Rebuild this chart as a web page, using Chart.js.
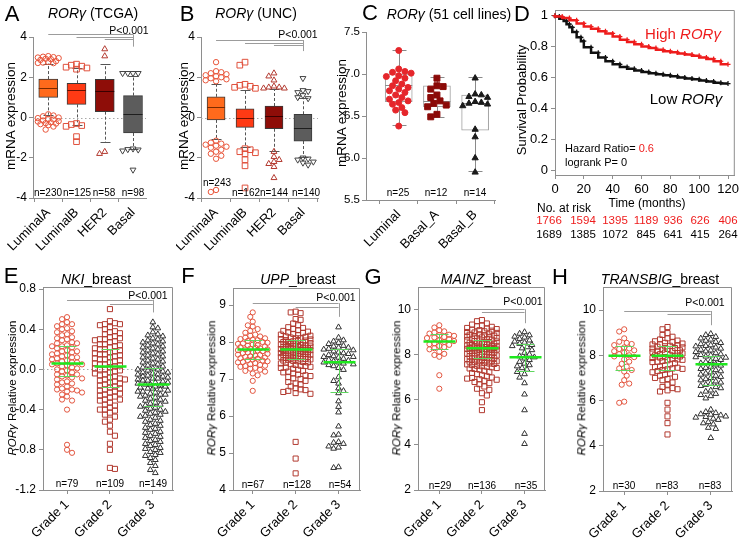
<!DOCTYPE html>
<html><head><meta charset="utf-8">
<script src="https://cdn.jsdelivr.net/npm/chart.js@4.4.0/dist/chart.umd.min.js"></script>
<style>
html,body{margin:0;padding:0;background:#fff;width:740px;height:540px;overflow:hidden;position:relative;font-family:"Liberation Sans",Arial,Helvetica,sans-serif}
canvas{position:absolute}
.t{position:absolute;white-space:nowrap;line-height:1;color:#000}
</style></head><body>
<script>
// ---------------- DATA ----------------
const catsAB = ['LuminalA','LuminalB','HER2','Basal'];
const catsC = ['Luminal','Basal_A','Basal_B'];
const catsG = ['Grade 1','Grade 2','Grade 3'];

const yTicksAB = [-4,-2,0,2,4];
const yTicksC = [5.5,6.0,6.5,7.0,7.5];
const yTicksD = [0,0.2,0.4,0.6,0.8,1];
const xTicksD = [0,20,40,60,80,100,120];
const yTicksE = [-1.2,-0.8,-0.4,0,0.4,0.8];
const yTicksF = [4,5,6,7,8,9];
const yTicksGH = [2,4,6,8,10];

// A: TCGA box plots
const aQ1 = [1.00, 0.65, 0.29, -0.77];
const aMed = [1.45, 1.35, 1.31, 0.15];
const aQ3 = [1.91, 1.70, 1.90, 1.09];
const aLo = [0.14, -0.35, -1.23, -1.58];
const aHi = [2.68, 2.45, 2.65, 2.05];
const aN = [230,125,58,98];
const aOut = [
 [3.05,3.02,3.0,2.98,2.95,2.92,2.9,2.86,2.8,2.76,2.73,2.71,2.7,0.16,0.1,0.06,0.0,-0.03,-0.08,-0.1,-0.15,-0.18,-0.2,-0.24,-0.28,-0.3,-0.33,-0.38,-0.45,-0.6],
 [2.65,2.6,2.55,2.5,2.46,2.4,-0.3,-0.35,-0.4,-0.44,-0.95,-1.2],
 [3.4,3.05,-1.7,-1.8],
 [2.2,2.2,2.2,2.2,-1.55,-1.58,-1.6,-1.65,-2.6]
];
// B: UNC box plots
const bQ1 = [-0.12, -0.49, -0.56, -1.17];
const bMed = [0.53, -0.04, 0.05, -0.52];
const bQ3 = [1.03, 0.43, 0.57, 0.16];
const bLo = [-1.08, -1.45, -1.65, -1.95];
const bHi = [1.67, 1.37, 1.42, 0.98];
const bN = [243,162,144,140];
const bOut = [
 [2.75,2.3,2.25,2.2,2.15,2.1,2.05,2.0,1.95,1.9,1.85,1.8,-1.15,-1.25,-1.3,-1.35,-1.4,-1.45,-1.5,-1.6,-1.7,-1.8,-1.9,-2.05,-3.6,-3.7],
 [2.75,2.6,1.65,1.6,1.55,1.5,1.45,-1.55,-1.6,-1.7,-1.75,-1.8,-2.1,-2.4,-3.5],
 [2.2,2.05,1.85,1.55,1.5,1.5,1.45,1.45,-1.7,-1.95,-2.1,-2.2,-2.3,-2.45,-3.0],
 [1.95,1.35,1.3,1.25,1.1,1.0,0.95,-2.0,-2.05,-2.1,-2.2,-2.25,-2.35]
];
// C: cell lines
const cQ1 = [6.67, 6.61, 6.33];
const cMed = [6.87, 6.68, 6.65];
const cQ3 = [7.00, 6.86, 6.75];
const cLo = [6.39, 6.49, 5.84];
const cHi = [7.29, 6.96, 6.96];
const cN = [25,12,14];
const cPts = [
 [7.28,7.06,7.03,7.02,7.01,6.98,6.97,6.95,6.92,6.88,6.86,6.84,6.82,6.80,6.78,6.75,6.72,6.70,6.68,6.66,6.64,6.60,6.57,6.54,6.38],
 [6.95,6.86,6.85,6.82,6.75,6.72,6.68,6.65,6.63,6.61,6.52,6.49],
 [6.95,6.76,6.75,6.73,6.72,6.67,6.66,6.65,6.64,6.62,6.34,6.25,6.00,5.83]
];
// D: survival
const dTimeHigh = [0,5,10,15,20,25,30,35,40,45,50,55,60,65,70,75,80,85,90,95,100,105,110,115,120];
const dSurvHigh = [1.0,0.995,0.985,0.97,0.95,0.93,0.915,0.9,0.885,0.865,0.845,0.83,0.815,0.8,0.79,0.78,0.77,0.763,0.755,0.748,0.74,0.73,0.72,0.705,0.685];
const dTimeLow = [0,3,6,8,10,12,15,18,20,25,30,35,40,45,50,55,60,65,70,75,80,85,90,95,100,105,110,115,120];
const dSurvLow = [1.0,0.995,0.98,0.965,0.945,0.925,0.895,0.86,0.835,0.795,0.76,0.73,0.705,0.685,0.668,0.656,0.645,0.636,0.628,0.62,0.614,0.607,0.6,0.594,0.588,0.58,0.574,0.566,0.56];
const riskTimes = [0,20,40,60,80,100,120];
const riskHigh = [1766,1594,1395,1189,936,626,406];
const riskLow = [1689,1385,1072,845,641,415,264];

// E: NKI
const eVals = [
 [0.52,0.50,0.47,0.45,0.45,0.43,0.41,0.40,0.38,0.37,0.35,0.34,0.32,0.31,0.30,0.29,0.27,0.26,0.26,0.24,0.23,0.23,0.22,0.21,0.19,0.18,0.18,0.17,0.16,0.15,0.14,0.13,0.12,0.12,0.11,0.10,0.09,0.08,0.07,0.07,0.06,0.05,0.05,0.04,0.03,0.02,0.01,0.00,-0.01,-0.02,-0.03,-0.05,-0.05,-0.06,-0.07,-0.08,-0.09,-0.10,-0.12,-0.13,-0.14,-0.15,-0.17,-0.19,-0.20,-0.20,-0.21,-0.22,-0.23,-0.25,-0.27,-0.30,-0.31,-0.40,-0.75,-0.80,-0.83],
 [0.60,0.48,0.46,0.45,0.45,0.44,0.42,0.40,0.38,0.37,0.36,0.35,0.33,0.32,0.31,0.30,0.30,0.29,0.28,0.27,0.25,0.25,0.24,0.23,0.22,0.21,0.20,0.20,0.19,0.18,0.17,0.16,0.15,0.15,0.14,0.13,0.12,0.11,0.10,0.10,0.09,0.08,0.07,0.06,0.05,0.05,0.04,0.03,0.02,0.01,0.00,0.00,-0.01,-0.02,-0.03,-0.04,-0.05,-0.06,-0.07,-0.08,-0.09,-0.10,-0.10,-0.11,-0.12,-0.13,-0.14,-0.15,-0.16,-0.17,-0.18,-0.19,-0.20,-0.21,-0.22,-0.23,-0.24,-0.25,-0.26,-0.27,-0.28,-0.30,-0.30,-0.31,-0.33,-0.35,-0.36,-0.38,-0.40,-0.40,-0.41,-0.43,-0.45,-0.47,-0.50,-0.52,-0.56,-0.62,-0.66,-0.74,-0.80,-0.98,-0.99],
 [0.47,0.42,0.41,0.37,0.35,0.34,0.33,0.31,0.30,0.29,0.28,0.27,0.26,0.25,0.24,0.23,0.22,0.21,0.20,0.19,0.18,0.17,0.16,0.15,0.14,0.13,0.12,0.11,0.10,0.09,0.08,0.07,0.06,0.05,0.04,0.03,0.02,0.01,0.00,0.00,-0.01,-0.02,-0.03,-0.03,-0.04,-0.05,-0.05,-0.06,-0.07,-0.07,-0.08,-0.09,-0.09,-0.10,-0.11,-0.11,-0.12,-0.13,-0.13,-0.14,-0.15,-0.15,-0.16,-0.17,-0.17,-0.18,-0.19,-0.19,-0.20,-0.21,-0.22,-0.22,-0.23,-0.24,-0.25,-0.25,-0.26,-0.27,-0.28,-0.29,-0.30,-0.31,-0.32,-0.33,-0.34,-0.35,-0.36,-0.37,-0.38,-0.39,-0.40,-0.41,-0.42,-0.43,-0.44,-0.45,-0.46,-0.47,-0.48,-0.50,-0.51,-0.52,-0.54,-0.55,-0.56,-0.58,-0.59,-0.60,-0.62,-0.63,-0.64,-0.66,-0.67,-0.68,-0.70,-0.71,-0.72,-0.74,-0.75,-0.76,-0.78,-0.79,-0.80,-0.82,-0.83,-0.85,-0.86,-0.88,-0.90,-0.93,-0.96,-1.00,-1.03]
];
const eMed = [0.06, 0.03, -0.15];
const eHi = [0.235, 0.20, 0.01];
const eLo = [-0.07, -0.18, -0.36];
const eN = [79,109,149];

// F: UPP
const fVals = [
 [8.80,8.68,8.55,8.45,8.42,8.35,8.30,8.25,8.20,8.17,8.15,8.12,8.10,8.08,8.06,8.05,8.03,8.00,7.98,7.96,7.95,7.93,7.91,7.90,7.88,7.86,7.85,7.83,7.82,7.80,7.80,7.78,7.77,7.75,7.73,7.72,7.70,7.68,7.66,7.65,7.63,7.61,7.60,7.58,7.56,7.55,7.53,7.51,7.50,7.48,7.46,7.45,7.43,7.40,7.38,7.36,7.35,7.33,7.30,7.28,7.25,7.22,7.20,7.15,7.10,6.95,6.68],
 [8.82,8.80,8.78,8.62,8.60,8.50,8.45,8.40,8.38,8.35,8.32,8.30,8.28,8.26,8.25,8.22,8.20,8.19,8.17,8.15,8.14,8.12,8.10,8.10,8.08,8.07,8.05,8.04,8.03,8.02,8.00,8.00,7.98,7.97,7.96,7.95,7.94,7.93,7.92,7.91,7.90,7.89,7.88,7.87,7.86,7.85,7.84,7.83,7.82,7.81,7.80,7.80,7.79,7.78,7.77,7.76,7.75,7.74,7.73,7.72,7.71,7.70,7.70,7.69,7.68,7.67,7.66,7.65,7.64,7.63,7.62,7.61,7.60,7.59,7.58,7.57,7.56,7.55,7.54,7.53,7.52,7.50,7.49,7.48,7.46,7.45,7.44,7.42,7.40,7.38,7.36,7.35,7.33,7.31,7.30,7.28,7.25,7.22,7.20,7.18,7.15,7.12,7.10,7.08,7.05,7.02,7.00,6.95,6.92,6.88,6.85,6.80,6.75,6.72,6.70,6.68,6.65,6.62,6.60,5.30,4.85,4.45],
 [8.40,8.12,8.05,8.02,7.98,7.95,7.90,7.88,7.85,7.85,7.82,7.80,7.78,7.75,7.72,7.70,7.68,7.65,7.62,7.60,7.60,7.58,7.55,7.52,7.50,7.48,7.45,7.45,7.42,7.40,7.38,7.35,7.30,7.25,7.05,6.95,6.88,6.75,6.68,6.62,6.40,6.25,6.10,5.72,5.50,5.48,5.30,5.28,5.25,5.18,5.15,5.12,4.62,4.60]
];
const fMed = [7.80, 7.80, 7.45];
const fHi = [8.05, 8.05, 7.80];
const fLo = [7.55, 7.55, 6.65];
const fN = [67,128,54];

// G: MAINZ
const gVals = [
 [9.32,9.22,9.10,9.05,9.00,8.95,8.90,8.88,8.85,8.80,8.78,8.75,8.70,8.65,8.62,8.58,8.52,8.48,8.45,8.40,8.35,8.30,8.25,8.15,8.05,8.00,7.92,7.10,6.50],
 [9.55,9.50,9.40,9.35,9.30,9.28,9.25,9.20,9.18,9.15,9.12,9.10,9.08,9.05,9.02,9.00,8.98,8.95,8.92,8.90,8.88,8.86,8.84,8.82,8.80,8.78,8.76,8.74,8.72,8.70,8.68,8.66,8.64,8.62,8.60,8.58,8.56,8.54,8.52,8.50,8.48,8.46,8.44,8.42,8.40,8.38,8.36,8.35,8.34,8.33,8.32,8.31,8.30,8.29,8.28,8.27,8.26,8.25,8.24,8.22,8.20,8.18,8.16,8.14,8.12,8.10,8.08,8.06,8.04,8.02,8.00,7.98,7.96,7.94,7.92,7.90,7.88,7.86,7.84,7.82,7.80,7.78,7.76,7.74,7.72,7.70,7.68,7.66,7.64,7.62,7.60,7.58,7.55,7.52,7.50,7.48,7.45,7.42,7.40,7.38,7.35,7.30,7.25,7.20,7.15,7.10,7.05,7.00,6.98,6.95,6.92,6.90,6.85,6.80,6.75,6.70,6.60,6.50,6.45,6.30,6.20,5.90,5.55],
 [9.02,8.95,8.88,8.82,8.78,8.72,8.65,8.60,8.55,8.50,8.45,8.40,8.35,8.30,8.22,8.10,8.02,7.95,7.90,7.85,7.78,7.70,7.62,7.55,7.50,7.42,7.35,7.25,7.15,7.00,6.75,6.25,5.55,4.50,4.05]
];
const gMed = [8.60, 8.30, 7.90];
const gHi = [8.92, 8.67, 8.50];
const gLo = [8.28, 7.88, 7.27];
const gN = [29,136,35];

// H: TRANSBIG
const hVals = [
 [9.15,9.05,8.75,8.60,8.55,8.50,8.45,8.35,8.30,8.28,8.22,8.18,8.12,8.05,8.00,7.95,7.92,7.82,7.72,7.62,7.50,7.42,7.35,7.28,7.10,6.90,6.75,6.70,5.95,5.90],
 [9.25,9.15,8.98,8.90,8.82,8.75,8.70,8.65,8.62,8.58,8.55,8.52,8.50,8.48,8.45,8.42,8.40,8.38,8.35,8.32,8.30,8.28,8.25,8.22,8.20,8.18,8.15,8.12,8.10,8.08,8.05,8.02,8.00,7.98,7.95,7.92,7.90,7.88,7.85,7.82,7.80,7.78,7.75,7.72,7.70,7.65,7.60,7.55,7.50,7.48,7.45,7.42,7.40,7.38,7.35,7.30,7.25,7.20,7.15,7.10,7.05,7.00,6.95,6.90,6.80,6.70,6.60,6.55,6.50,6.45,6.40,5.90,5.60,5.30,5.00,4.50],
 [8.95,8.90,8.82,8.75,8.70,8.65,8.60,8.55,8.50,8.45,8.42,8.40,8.35,8.30,8.25,8.22,8.18,8.15,8.10,8.05,8.02,8.00,7.95,7.92,7.90,7.85,7.80,7.75,7.70,7.65,7.60,7.55,7.50,7.45,7.40,7.35,7.30,7.25,7.20,7.15,7.10,7.05,7.00,6.95,6.90,6.85,6.80,6.75,6.70,6.65,6.60,6.55,6.45,6.40,6.30,6.25,6.20,6.10,5.60,5.50,5.45,5.40,5.38,5.35,5.30,5.28,5.25,5.20,5.15,5.05,5.00,4.95,4.80,4.75,4.35]
];
const hMed = [7.98, 7.98, 7.60];
const hHi = [8.41, 8.42, 7.97];
const hLo = [7.35, 7.35, 6.70];
const hN = [30,83,83];

// ---------------- RENDERING ----------------
const FONT = '"Liberation Sans", Arial, Helvetica, sans-serif';
Chart.defaults.font.family = FONT;
Chart.defaults.color = '#000';
const AX = '#8e8e8e';

function txt(x, y, html, size, o = {}) {
  const d = document.createElement('div');
  d.className = 't';
  d.innerHTML = html;
  const ax = o.ax === undefined ? -50 : o.ax;
  d.style.left = x + 'px'; d.style.top = y + 'px';
  d.style.fontSize = size + 'px';
  if (o.color) d.style.color = o.color;
  d.style.transform = `translate(${ax}%,-50%)` + (o.rot ? ` rotate(${o.rot}deg)` : '');
  document.body.appendChild(d);
}

// layout jitter (beeswarm) for the dot columns: positions only, values untouched
function swarm(vals, center, pxX, pxY, d, maxHalf) {
  const placed = [], out = [];
  const sorted = vals.slice().sort((a, b) => b - a);
  let flip = 1;
  for (const v of sorted) {
    const py = v * pxY;
    let best = 0, bestScore = -1;
    const kmax = Math.floor(maxHalf / (d / 2));
    outer:
    for (let k = 0; k <= kmax; k++) {
      const sides = k === 0 ? [0] : [flip, -flip];
      for (const s of sides) {
        const px = s * k * d / 2;
        let mind = Infinity;
        for (const p of placed) {
          const dy = p[1] - py;
          if (Math.abs(dy) < d) { const dd = Math.hypot(p[0] - px, dy); if (dd < mind) mind = dd; }
        }
        if (mind >= d * 0.95) { best = px; bestScore = Infinity; break outer; }
        if (mind > bestScore) { bestScore = mind; best = px; }
      }
    }
    flip = -flip;
    placed.push([best, py]);
    out.push({ x: center + best / pxX, y: v });
  }
  return out;
}

const extras = {
  id: 'extras',
  beforeDatasetsDraw(chart, args, o) {
    const { ctx, chartArea: a, scales: { x, y } } = chart;
    ctx.save();
    if (o.zero) {
      ctx.strokeStyle = '#a8a8a8'; ctx.lineWidth = 1; ctx.setLineDash([1.5, 2.5]);
      const py = Math.round(y.getPixelForValue(0)) + 0.5;
      ctx.beginPath(); ctx.moveTo(a.left, py); ctx.lineTo(a.right, py); ctx.stroke();
      ctx.setLineDash([]);
    }
    if (o.frame) {
      ctx.strokeStyle = AX; ctx.lineWidth = 1;
      ctx.beginPath();
      ctx.moveTo(a.left, a.top + 0.5); ctx.lineTo(a.right - 0.5, a.top + 0.5); ctx.lineTo(a.right - 0.5, a.bottom);
      ctx.stroke();
    }
    if (o.box) {
      const b = o.box;
      ctx.strokeStyle = b.wColor; ctx.lineWidth = 1;
      for (let i = 0; i < b.q1.length; i++) {
        const px = Math.round(x.getPixelForValue(i)) + 0.5;
        ctx.setLineDash(b.dash || []);
        ctx.beginPath();
        ctx.moveTo(px, y.getPixelForValue(b.q3[i])); ctx.lineTo(px, y.getPixelForValue(b.hi[i]));
        ctx.moveTo(px, y.getPixelForValue(b.q1[i])); ctx.lineTo(px, y.getPixelForValue(b.lo[i]));
        ctx.stroke();
        ctx.setLineDash([]);
        ctx.beginPath();
        for (const v of [b.hi[i], b.lo[i]]) {
          const py = Math.round(y.getPixelForValue(v)) + 0.5;
          ctx.moveTo(px - b.cap, py); ctx.lineTo(px + b.cap, py);
        }
        ctx.stroke();
      }
    }
    ctx.restore();
  },
  afterDatasetDraw(chart, args, o) {
    if (!o.box || args.index !== o.box.barIndex) return;
    const { ctx, scales: { x, y } } = chart;
    const b = o.box;
    ctx.save();
    ctx.lineWidth = 1;
    for (let i = 0; i < b.med.length; i++) {
      const px = x.getPixelForValue(i);
      const py = Math.round(y.getPixelForValue(b.med[i])) + 0.5;
      ctx.strokeStyle = b.mColor[i];
      ctx.beginPath(); ctx.moveTo(px - b.half, py); ctx.lineTo(px + b.half, py); ctx.stroke();
    }
    ctx.restore();
  },
  afterDatasetsDraw(chart, args, o) {
    const { ctx, scales: { x, y } } = chart;
    ctx.save();
    if (o.green) {
      const g = o.green;
      for (let i = 0; i < g.med.length; i++) {
        const px = Math.round(x.getPixelForValue(i)) + 0.5;
        ctx.strokeStyle = '#5fd65f'; ctx.lineWidth = 1;
        ctx.beginPath();
        ctx.moveTo(px, y.getPixelForValue(g.hi[i])); ctx.lineTo(px, y.getPixelForValue(g.lo[i]));
        for (const v of [g.hi[i], g.lo[i]]) {
          const py = Math.round(y.getPixelForValue(v)) + 0.5;
          ctx.moveTo(px - 9, py); ctx.lineTo(px + 9, py);
        }
        ctx.stroke();
        ctx.strokeStyle = '#1ee81e'; ctx.lineWidth = 2.5;
        const pm = y.getPixelForValue(g.med[i]);
        ctx.beginPath(); ctx.moveTo(px - 16, pm); ctx.lineTo(px + 16, pm); ctx.stroke();
      }
    }
    if (o.brackets) {
      ctx.strokeStyle = '#9c9c9c'; ctx.lineWidth = 1;
      ctx.beginPath();
      for (const [x1, x2, yv] of o.brackets.h) {
        const py = Math.round(y.getPixelForValue(yv)) + 0.5;
        ctx.moveTo(x.getPixelForValue(x1), py); ctx.lineTo(x.getPixelForValue(x2), py);
      }
      const [xv, y1, y2] = o.brackets.v;
      const px = Math.round(x.getPixelForValue(xv)) + 0.5;
      ctx.moveTo(px, y.getPixelForValue(y1)); ctx.lineTo(px, y.getPixelForValue(y2));
      ctx.stroke();
    }
    ctx.restore();
  }
};

function makeChart(p) {
  const [cx, cy, cw, ch] = p.rect, [L, T, R, B] = p.area;
  const cv = document.createElement('canvas');
  cv.width = cw; cv.height = ch;
  cv.style.cssText = `left:${cx}px;top:${cy}px;width:${cw}px;height:${ch}px`;
  document.body.appendChild(cv);
  const mk = (axis, o) => ({
    type: 'linear', min: o.min, max: o.max, offset: false,
    grid: { display: true, drawOnChartArea: false, drawTicks: true, tickLength: 4, color: AX, tickColor: AX, lineWidth: 1 },
    border: { display: true, color: AX, width: 1 },
    ticks: { autoSkip: false, font: { size: o.fs, family: FONT }, color: '#000', padding: o.pad === undefined ? 2 : o.pad,
      maxRotation: o.rot || 0, minRotation: o.rot || 0, callback: o.fmt },
    afterBuildTicks: s => { s.ticks = o.ticks.map(v => ({ value: v })); },
    afterFit: axis === 'x'
      ? s => { s.height = cy + ch - B; s.paddingLeft = 0; s.paddingRight = 0; }
      : s => { s.width = L - cx; s.paddingTop = 0; s.paddingBottom = 0; }
  });
  return new Chart(cv, {
    type: 'scatter',
    data: { datasets: p.datasets },
    options: {
      responsive: false, maintainAspectRatio: false, animation: false, devicePixelRatio: 1, events: [],
      layout: { padding: { left: 0, top: T - cy, right: cx + cw - R, bottom: 0 } },
      plugins: { legend: { display: false }, tooltip: { enabled: false }, extras: p.extras || {} },
      scales: { x: mk('x', p.x), y: mk('y', p.y) }
    },
    plugins: [extras]
  });
}

function scatterSet(points, style, color, r, fill, rot) {
  return { type: 'scatter', data: points, pointStyle: style, pointRadius: r, pointBorderWidth: 1,
    pointBorderColor: color, pointBackgroundColor: fill || 'rgba(0,0,0,0)', pointRotation: rot || 0, clip: false, order: 0 };
}
function boxBars(q1, q3, fills, border, thick) {
  return { type: 'bar', data: q1.map((v, i) => ({ x: i, y: [v, q3[i]] })), backgroundColor: fills,
    borderColor: border, borderWidth: 1, borderSkipped: false, barThickness: thick, grouped: false, order: 10 };
}

// ----- Panel A & B -----
const boxFills = ['#ff6a1c', '#ff3a14', '#8e0d08', '#5c5c5c'];
const medCols = ['#7a2a00', '#6a1000', '#3a0000', '#1e1e1e'];
const outStyle = [['circle', '#e8553a', 2.7, 0], ['rect', '#e0503c', 4.0, 0], ['triangle', '#b33a30', 3.4, 0], ['triangle', '#444', 3.4, 180]];

function boxPanel(rect, area, xr, q1, med, q3, lo, hi, outs, brackets, thick) {
  const pxX = (area[2] - area[0]) / (xr[1] - xr[0]);
  const pxY = (area[3] - area[1]) / 8;
  const ds = [boxBars(q1, q3, boxFills, '#3a3a3a', thick)];
  outs.forEach((vals, i) => {
    const [st, col, r, rot] = outStyle[i];
    ds.push(scatterSet(swarm(vals, i, pxX, pxY, 5.2, 12), st, col, r, null, rot));
  });
  makeChart({
    rect, area,
    x: { min: xr[0], max: xr[1], ticks: [0, 1, 2, 3], fmt: v => catsAB[Math.round(v)], fs: 13, rot: 45, pad: 3 },
    y: { min: -4, max: 4, ticks: yTicksAB, fmt: v => String(v), fs: 12 },
    datasets: ds,
    extras: { zero: true, brackets,
      box: { q1, q3, med, lo, hi, barIndex: 0, cap: 5, half: thick / 2, wColor: '#555', dash: [3, 2], mColor: medCols } }
  });
}
boxPanel([0, 0, 180, 265], [33, 37, 146, 198], [-0.54, 3.46], aQ1, aMed, aQ3, aLo, aHi, aOut,
  { h: [[0, 3, 4.13], [1, 3, 4.01], [2, 3, 3.9]], v: [3, 4.13, 3.52] }, 19);
boxPanel([176, 0, 180, 265], [201, 37, 318, 198], [-0.52, 3.52], bQ1, bMed, bQ3, bLo, bHi, bOut,
  { h: [[0, 3, 3.85], [1, 3, 3.72], [2, 3, 3.62]], v: [3, 3.85, 3.3] }, 18);

// ----- Panel C -----
(function () {
  const area = [366, 32, 495, 200];
  const xr = [-0.857, 2.52];
  const pxX = (area[2] - area[0]) / (xr[1] - xr[0]);
  const pxY = (area[3] - area[1]) / 2;
  const st = [['circle', '#e5262b', 3.0, 0], ['rect', '#8b0a08', 4.2, 0], ['triangle', '#1a1a1a', 3.6, 0]];
  const ds = [boxBars(cQ1, cQ3, ['#ffffff', '#ffffff', '#ffffff'], '#a0a0a0', 27)];
  cPts.forEach((vals, i) => {
    const [s, col, r] = st[i];
    ds.push(scatterSet(swarm(vals, i, pxX, pxY, 6.2, 13), s, col, r, col));
  });
  makeChart({
    rect: [330, 0, 200, 265], area,
    x: { min: xr[0], max: xr[1], ticks: [0, 1, 2], fmt: v => catsC[Math.round(v)], fs: 13, rot: 45, pad: 3 },
    y: { min: 5.5, max: 7.5, ticks: yTicksC, fmt: v => v.toFixed(1), fs: 11.5 },
    datasets: ds,
    extras: { box: { q1: cQ1, q3: cQ3, med: cMed, lo: cLo, hi: cHi, barIndex: 0, cap: 7, half: 13.5, wColor: '#8a8a8a', dash: [], mColor: ['#8a8a8a', '#8a8a8a', '#8a8a8a'] } }
  });
})();

// ----- Panel D -----
(function () {
  const line = (tx, sv, col) => ({ type: 'scatter', showLine: true, stepped: 'after',
    data: tx.map((t, i) => ({ x: t, y: sv[i] })), borderColor: col, borderWidth: 2.5,
    pointStyle: 'cross', pointRadius: 2.5, pointBorderColor: col, pointBorderWidth: 1.2, clip: false });
  makeChart({
    rect: [505, 0, 235, 200], area: [555, 10, 738, 175],
    x: { min: 0, max: 124.7, ticks: xTicksD, fmt: v => String(v), fs: 13, pad: 3 },
    y: { min: -0.032, max: 1.037, ticks: yTicksD, fmt: v => String(v), fs: 13, pad: 3 },
    datasets: [line(dTimeHigh, dSurvHigh, '#ee1c1c'), line(dTimeLow, dSurvLow, '#111')],
    extras: { frame: true }
  });
})();

// ----- Panels E-H -----
const gStyles = [['circle', '#e2553f', 2.6], ['rect', '#b23a30', 3.6], ['triangle', '#333333', 3.3]];
function dotPanel(rect, area, xr, yr, yt, fmt, vals, med, hi, lo, brackets, zero) {
  const pxX = (area[2] - area[0]) / (xr[1] - xr[0]);
  const pxY = (area[3] - area[1]) / (yr[1] - yr[0]);
  const ds = vals.map((v, i) => {
    const [s, col, r] = gStyles[i];
    return scatterSet(swarm(v, i, pxX, pxY, 5.0, 16), s, col, r);
  });
  makeChart({
    rect, area,
    x: { min: xr[0], max: xr[1], ticks: [0, 1, 2], fmt: v => catsG[Math.round(v)], fs: 13, rot: 45, pad: 3 },
    y: { min: yr[0], max: yr[1], ticks: yt, fmt, fs: 12, pad: 3 },
    datasets: ds,
    extras: { frame: true, zero, brackets, green: { med, hi, lo } }
  });
}
dotPanel([0, 265, 180, 275], [43, 287, 173, 490], [-0.56, 2.47], [-1.2, 0.82], yTicksE, v => v.toFixed(1),
  eVals, eMed, eHi, eLo, { h: [[0, 2, 0.694], [1, 2, 0.65]], v: [2, 0.694, 0.567] }, true);
dotPanel([180, 265, 185, 275], [233, 288, 362, 490], [-0.46, 2.5], [4, 9.46], yTicksF, v => String(v),
  fVals, fMed, fHi, fLo, { h: [[0, 2, 9.05], [1, 2, 8.95]], v: [2, 9.05, 8.68] }, false);
dotPanel([365, 265, 185, 275], [418, 287, 547, 490], [-0.5, 2.48], [2, 11.02], yTicksGH, v => String(v),
  gVals, gMed, gHi, gLo, { h: [[0, 2, 10.03], [1, 2, 9.9]], v: [2, 10.03, 9.41] }, false);
dotPanel([550, 265, 190, 275], [603, 287, 732, 491], [-0.49, 2.49], [2, 11.02], yTicksGH, v => String(v),
  hVals, hMed, hHi, hLo, { h: [[0, 2, 9.96], [1, 2, 9.84]], v: [2, 9.96, 9.33] }, false);

// ---------------- TEXT ----------------
const R = '<i>ROR&gamma;</i>';
// panel letters
[['A', 12, 14], ['B', 187, 14], ['C', 370, 13], ['D', 522, 14], ['E', 11, 276], ['F', 188, 276], ['G', 373, 277], ['H', 560, 277]]
  .forEach(([l, x, y]) => txt(x, y, l, 22));
// titles
txt(93, 13, R + ' (TCGA)', 14);
txt(256, 13, R + ' (UNC)', 14);
txt(449, 14, R + ' (51 cell lines)', 14);
txt(96, 279, '<i>NKI</i>_breast', 14);
txt(298, 279, '<i>UPP</i>_breast', 14);
txt(486, 279, '<i>MAINZ</i>_breast', 14);
txt(660, 279, '<i>TRANSBIG</i>_breast', 14);
// y titles
txt(11, 116, 'mRNA expression', 13.5, { rot: -90 });
txt(184, 116, 'mRNA expression', 13.5, { rot: -90 });
txt(342, 113, 'mRNA expression', 13.5, { rot: -90 });
txt(521, 100, 'Survival Probability', 13, { rot: -90 });
txt(13, 388, R + ' Relative expression', 11.5, { rot: -90 });
txt(212, 388, R + ' Relative expression', 11.5, { rot: -90 });
txt(397, 388, R + ' Relative expression', 11.5, { rot: -90 });
txt(582, 388, R + ' Relative expression', 11.5, { rot: -90 });
// p-values
[[129, 30], [298, 34], [148, 295], [336, 297], [523, 301], [705, 302]].forEach(([x, y]) => txt(x, y, 'P&lt;0.001', 10.5));
// n labels
[48, 77, 104, 133].forEach((x, i) => txt(x, 193, 'n=' + aN[i], 10));
txt(217, 183, 'n=' + bN[0], 10);
[246, 274, 306].forEach((x, i) => txt(x, 193, 'n=' + bN[i + 1], 10));
[398, 436, 475].forEach((x, i) => txt(x, 193, 'n=' + cN[i], 10));
[67, 110, 153].forEach((x, i) => txt(x, 484, 'n=' + eN[i], 10));
[253, 297, 340].forEach((x, i) => txt(x, 485, 'n=' + fN[i], 10));
[440, 482, 526].forEach((x, i) => txt(x, 486, 'n=' + gN[i], 10));
[624, 667, 710].forEach((x, i) => txt(x, 486, 'n=' + hN[i], 10));
// survival annotations
txt(683, 33, 'High ' + R, 15, { color: '#ee1c1c' });
txt(686, 98, 'Low ' + R, 15);
txt(565, 148, 'Hazard Ratio= <span style="color:#ee1c1c">0.6</span>', 11, { ax: 0 });
txt(565, 162, 'logrank P= 0', 11, { ax: 0 });
txt(647, 203, 'Time (months)', 12);
txt(564, 208, 'No. at risk', 12);
const riskX = [549, 583, 615, 646, 673, 700, 728];
riskX.forEach((x, i) => { txt(x, 221, String(riskHigh[i]), 11.5, { color: '#ee1c1c' }); txt(x, 235, String(riskLow[i]), 11.5); });
</script>
</body></html>
